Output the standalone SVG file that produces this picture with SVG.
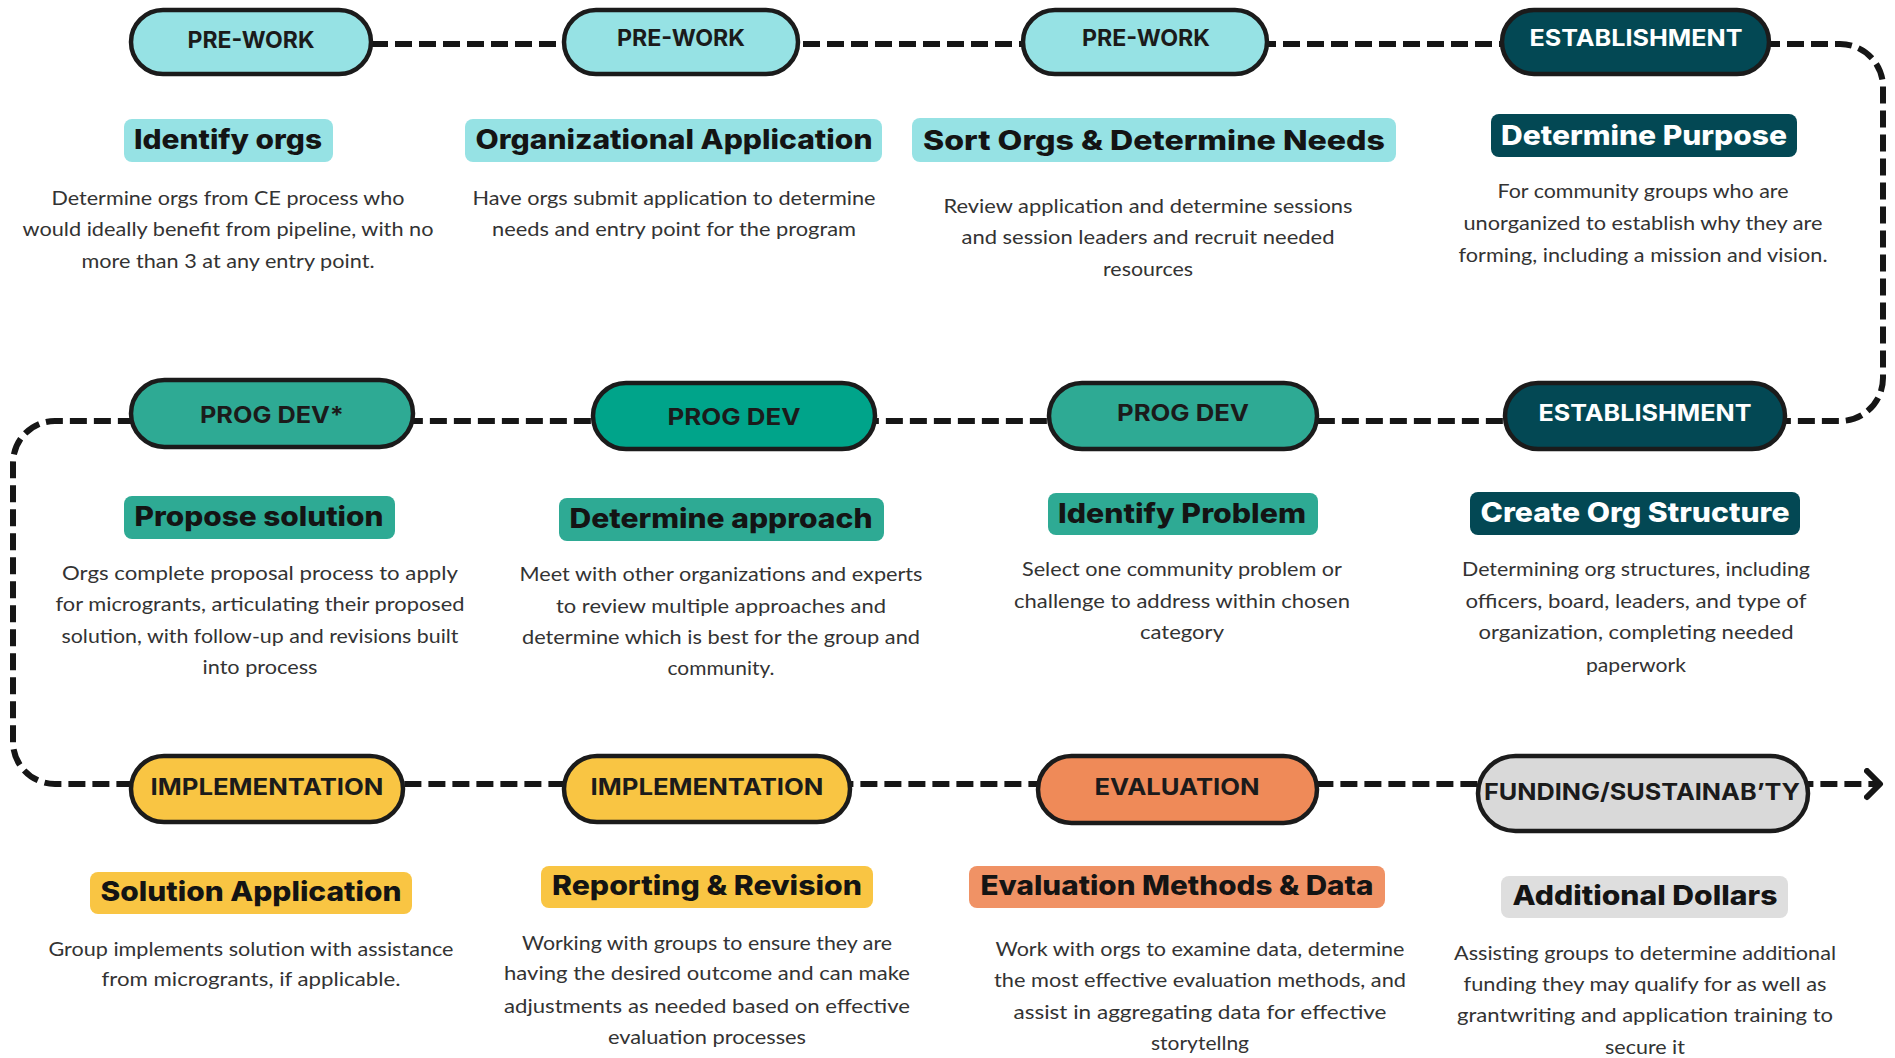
<svg xmlns="http://www.w3.org/2000/svg" width="1895" height="1058" viewBox="0 0 1895 1058">
<style>
.bg{fill:#ffffff}
.pill{stroke:#1b1b1b;stroke-width:4.5}
.pt{font-family:Inter,"Open Sans","Liberation Sans",sans-serif;font-weight:700;font-size:23px;text-anchor:middle;fill:#1b1b1b}
.pt.w{fill:#ffffff}
.hb{stroke:none}
.ht{font-family:Inter,"Open Sans","Liberation Sans",sans-serif;font-weight:800;font-size:27px;text-anchor:middle;fill:#141414}
.ht.w{fill:#ffffff}
.bt{font-family:Lato,"Open Sans","Liberation Sans",sans-serif;font-size:20px;text-anchor:middle;fill:#333333}
.cyan{fill:#96E2E4}
.teal{fill:#034854}
.green{fill:#2EAA94}
.green2{fill:#00A48A}
.yellow{fill:#F9C543}
.orange{fill:#EF8A58}
.orange2{fill:#F09265}
.grey{fill:#D9D9D9}
.grey2{fill:#DEDEDE}
.conn{fill:none;stroke:#161616;stroke-width:6;stroke-dasharray:17 7}
</style>
<defs>
<marker id="arr" markerUnits="userSpaceOnUse" markerWidth="30" markerHeight="34" refX="16" refY="16" orient="auto" viewBox="0 0 30 34">
<path d="M3 3 L16 16 L3 29" fill="none" stroke="#161616" stroke-width="6" stroke-linecap="round" stroke-linejoin="round"/>
</marker>
</defs>
<rect class="bg" x="0" y="0" width="1895" height="1058"/>

<g id="connectors">
<path class="conn" d="M 251 44 H 1840 A 43 43 0 0 1 1883 87 V 378 A 43 43 0 0 1 1840 421 H 55 A 42 42 0 0 0 13 463 V 742 A 42 42 0 0 0 55 784 H 1880" marker-end="url(#arr)"/>
</g>

<!-- Row 1 -->
<g id="n1">
<rect class="pill cyan" x="131" y="10" width="240" height="64" rx="32"/>
<text class="pt" x="251" y="48" textLength="127" lengthAdjust="spacingAndGlyphs">PRE-WORK</text>
<rect class="hb cyan" x="124" y="119" width="209" height="43" rx="8"/>
<text class="ht" x="228" y="149" textLength="188" lengthAdjust="spacingAndGlyphs">Identify orgs</text>
<text class="bt" x="228" y="205" textLength="353" lengthAdjust="spacingAndGlyphs">Determine orgs from CE process who</text>
<text class="bt" x="228" y="236" textLength="411" lengthAdjust="spacingAndGlyphs">would ideally benefit from pipeline, with no</text>
<text class="bt" x="228" y="268" textLength="293" lengthAdjust="spacingAndGlyphs">more than 3 at any entry point.</text>
</g>
<g id="n2">
<rect class="pill cyan" x="564" y="10" width="234" height="64" rx="32"/>
<text class="pt" x="681" y="46" textLength="128" lengthAdjust="spacingAndGlyphs">PRE-WORK</text>
<rect class="hb cyan" x="465" y="119" width="417" height="43" rx="8"/>
<text class="ht" x="674" y="149" textLength="397" lengthAdjust="spacingAndGlyphs">Organizational Application</text>
<text class="bt" x="674" y="205" textLength="403" lengthAdjust="spacingAndGlyphs">Have orgs submit application to determine</text>
<text class="bt" x="674" y="236" textLength="364" lengthAdjust="spacingAndGlyphs">needs and entry point for the program</text>
</g>
<g id="n3">
<rect class="pill cyan" x="1023" y="10" width="244" height="64" rx="32"/>
<text class="pt" x="1146" y="46" textLength="128" lengthAdjust="spacingAndGlyphs">PRE-WORK</text>
<rect class="hb cyan" x="912" y="118" width="484" height="44" rx="8"/>
<text class="ht" x="1154" y="150" textLength="462" lengthAdjust="spacingAndGlyphs">Sort Orgs &amp; Determine Needs</text>
<text class="bt" x="1148" y="213" textLength="409" lengthAdjust="spacingAndGlyphs">Review application and determine sessions</text>
<text class="bt" x="1148" y="244" textLength="373" lengthAdjust="spacingAndGlyphs">and session leaders and recruit needed</text>
<text class="bt" x="1148" y="276" textLength="90" lengthAdjust="spacingAndGlyphs">resources</text>
</g>
<g id="n4">
<rect class="pill teal" x="1502" y="10" width="267" height="64" rx="32"/>
<text class="pt w" x="1636" y="46" textLength="213" lengthAdjust="spacingAndGlyphs">ESTABLISHMENT</text>
<rect class="hb teal" x="1491" y="114" width="306" height="43" rx="8"/>
<text class="ht w" x="1644" y="145" textLength="286" lengthAdjust="spacingAndGlyphs">Determine Purpose</text>
<text class="bt" x="1643" y="198" textLength="291" lengthAdjust="spacingAndGlyphs">For community groups who are</text>
<text class="bt" x="1643" y="230" textLength="359" lengthAdjust="spacingAndGlyphs">unorganized to establish why they are</text>
<text class="bt" x="1643" y="262" textLength="369" lengthAdjust="spacingAndGlyphs">forming, including a mission and vision.</text>
</g>

<!-- Row 2 -->
<g id="n5">
<rect class="pill teal" x="1505" y="383" width="280" height="66" rx="33"/>
<text class="pt w" x="1645" y="421" textLength="213" lengthAdjust="spacingAndGlyphs">ESTABLISHMENT</text>
<rect class="hb teal" x="1470" y="492" width="330" height="43" rx="8"/>
<text class="ht w" x="1635" y="522" textLength="309" lengthAdjust="spacingAndGlyphs">Create Org Structure</text>
<text class="bt" x="1636" y="576" textLength="348" lengthAdjust="spacingAndGlyphs">Determining org structures, including</text>
<text class="bt" x="1636" y="608" textLength="341" lengthAdjust="spacingAndGlyphs">officers, board, leaders, and type of</text>
<text class="bt" x="1636" y="639" textLength="315" lengthAdjust="spacingAndGlyphs">organization, completing needed</text>
<text class="bt" x="1636" y="672" textLength="100" lengthAdjust="spacingAndGlyphs">paperwork</text>
</g>
<g id="n6">
<rect class="pill green" x="1049" y="383" width="268" height="66" rx="33"/>
<text class="pt" x="1183" y="421" textLength="132" lengthAdjust="spacingAndGlyphs">PROG DEV</text>
<rect class="hb green" x="1048" y="493" width="270" height="42" rx="8"/>
<text class="ht" x="1182" y="523" textLength="248" lengthAdjust="spacingAndGlyphs">Identify Problem</text>
<text class="bt" x="1182" y="576" textLength="320" lengthAdjust="spacingAndGlyphs">Select one community problem or</text>
<text class="bt" x="1182" y="608" textLength="336" lengthAdjust="spacingAndGlyphs">challenge to address within chosen</text>
<text class="bt" x="1182" y="639" textLength="84" lengthAdjust="spacingAndGlyphs">category</text>
</g>
<g id="n7">
<rect class="pill green2" x="593" y="383" width="282" height="66" rx="33"/>
<text class="pt" x="734" y="425" textLength="133" lengthAdjust="spacingAndGlyphs">PROG DEV</text>
<rect class="hb green" x="559" y="498" width="325" height="43" rx="8"/>
<text class="ht" x="721" y="528" textLength="303" lengthAdjust="spacingAndGlyphs">Determine approach</text>
<text class="bt" x="721" y="581" textLength="403" lengthAdjust="spacingAndGlyphs">Meet with other organizations and experts</text>
<text class="bt" x="721" y="613" textLength="330" lengthAdjust="spacingAndGlyphs">to review multiple approaches and</text>
<text class="bt" x="721" y="644" textLength="398" lengthAdjust="spacingAndGlyphs">determine which is best for the group and</text>
<text class="bt" x="721" y="675" textLength="107" lengthAdjust="spacingAndGlyphs">community.</text>
</g>
<g id="n8">
<rect class="pill green" x="131" y="380" width="282" height="67" rx="33.5"/>
<text class="pt" x="272" y="423" textLength="144" lengthAdjust="spacingAndGlyphs">PROG DEV*</text>
<rect class="hb green" x="124" y="496" width="271" height="43" rx="8"/>
<text class="ht" x="259" y="526" textLength="249" lengthAdjust="spacingAndGlyphs">Propose solution</text>
<text class="bt" x="260" y="580" textLength="396" lengthAdjust="spacingAndGlyphs">Orgs complete proposal process to apply</text>
<text class="bt" x="260" y="611" textLength="409" lengthAdjust="spacingAndGlyphs">for microgrants, articulating their proposed</text>
<text class="bt" x="260" y="643" textLength="397" lengthAdjust="spacingAndGlyphs">solution, with follow-up and revisions built</text>
<text class="bt" x="260" y="674" textLength="115" lengthAdjust="spacingAndGlyphs">into process</text>
</g>

<!-- Row 3 -->
<g id="n9">
<rect class="pill yellow" x="131" y="756" width="272" height="66" rx="33"/>
<text class="pt" x="267" y="795" textLength="233" lengthAdjust="spacingAndGlyphs">IMPLEMENTATION</text>
<rect class="hb yellow" x="90" y="872" width="322" height="42" rx="8"/>
<text class="ht" x="251" y="901" textLength="301" lengthAdjust="spacingAndGlyphs">Solution Application</text>
<text class="bt" x="251" y="956" textLength="405" lengthAdjust="spacingAndGlyphs">Group implements solution with assistance</text>
<text class="bt" x="251" y="986" textLength="299" lengthAdjust="spacingAndGlyphs">from microgrants, if applicable.</text>
</g>
<g id="n10">
<rect class="pill yellow" x="564" y="756" width="286" height="66" rx="33"/>
<text class="pt" x="707" y="795" textLength="233" lengthAdjust="spacingAndGlyphs">IMPLEMENTATION</text>
<rect class="hb yellow" x="541" y="866" width="332" height="42" rx="8"/>
<text class="ht" x="707" y="895" textLength="310" lengthAdjust="spacingAndGlyphs">Reporting &amp; Revision</text>
<text class="bt" x="707" y="950" textLength="370" lengthAdjust="spacingAndGlyphs">Working with groups to ensure they are</text>
<text class="bt" x="707" y="980" textLength="406" lengthAdjust="spacingAndGlyphs">having the desired outcome and can make</text>
<text class="bt" x="707" y="1013" textLength="406" lengthAdjust="spacingAndGlyphs">adjustments as needed based on effective</text>
<text class="bt" x="707" y="1044" textLength="198" lengthAdjust="spacingAndGlyphs">evaluation processes</text>
</g>
<g id="n11">
<rect class="pill orange" x="1038" y="756" width="279" height="67" rx="33.5"/>
<text class="pt" x="1177" y="795" textLength="165" lengthAdjust="spacingAndGlyphs">EVALUATION</text>
<rect class="hb orange2" x="969" y="866" width="416" height="42" rx="8"/>
<text class="ht" x="1177" y="895" textLength="393" lengthAdjust="spacingAndGlyphs">Evaluation Methods &amp; Data</text>
<text class="bt" x="1200" y="956" textLength="409" lengthAdjust="spacingAndGlyphs">Work with orgs to examine data, determine</text>
<text class="bt" x="1200" y="987" textLength="412" lengthAdjust="spacingAndGlyphs">the most effective evaluation methods, and</text>
<text class="bt" x="1200" y="1019" textLength="373" lengthAdjust="spacingAndGlyphs">assist in aggregating data for effective</text>
<text class="bt" x="1200" y="1050" textLength="98" lengthAdjust="spacingAndGlyphs">storytellng</text>
</g>
<g id="n12">
<rect class="pill grey" x="1478" y="756" width="330" height="75" rx="37.5"/>
<text class="pt" x="1642" y="800" textLength="316" lengthAdjust="spacingAndGlyphs">FUNDING/SUSTAINAB’TY</text>
<rect class="hb grey2" x="1501" y="876" width="287" height="42" rx="8"/>
<text class="ht" x="1645" y="905" textLength="265" lengthAdjust="spacingAndGlyphs">Additional Dollars</text>
<text class="bt" x="1645" y="960" textLength="382" lengthAdjust="spacingAndGlyphs">Assisting groups to determine additional</text>
<text class="bt" x="1645" y="991" textLength="363" lengthAdjust="spacingAndGlyphs">funding they may qualify for as well as</text>
<text class="bt" x="1645" y="1022" textLength="376" lengthAdjust="spacingAndGlyphs">grantwriting and application training to</text>
<text class="bt" x="1645" y="1054" textLength="80" lengthAdjust="spacingAndGlyphs">secure it</text>
</g>
</svg>
